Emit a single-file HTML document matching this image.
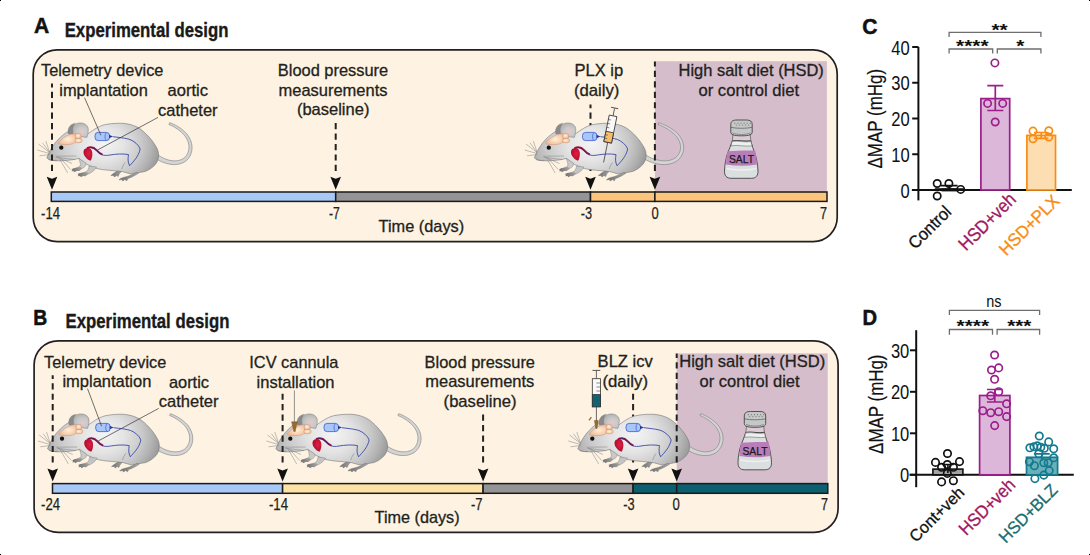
<!DOCTYPE html><html><head><meta charset="utf-8"><style>html,body{margin:0;padding:0;background:#fff;}svg{display:block;}</style></head><body>
<svg width="1090" height="555" viewBox="0 0 1090 555" font-family='"Liberation Sans", sans-serif'>
<defs>
<radialGradient id="mg" gradientUnits="userSpaceOnUse" cx="98" cy="146" r="62" fx="104" fy="142" gradientTransform="translate(98,146) scale(1,0.8) translate(-98,-146)">
 <stop offset="0" stop-color="#F4F4F4"/><stop offset="0.35" stop-color="#E4E4E4"/><stop offset="0.68" stop-color="#C8C8C8"/><stop offset="0.85" stop-color="#B2B2B2"/><stop offset="1" stop-color="#9A9A9A"/></radialGradient>
<radialGradient id="eg" cx="0.62" cy="0.6" r="0.6"><stop offset="0" stop-color="#EBC6C6"/><stop offset="0.45" stop-color="#CACACA"/><stop offset="1" stop-color="#B2B2B2"/></radialGradient>
<linearGradient id="fg" x1="0" y1="0" x2="1" y2="0"><stop offset="0" stop-color="#6e6e6e"/><stop offset="1" stop-color="#a8a8a8"/></linearGradient>
<radialGradient id="hg" cx="0.6" cy="0.45" r="0.6"><stop offset="0" stop-color="#E01E44"/><stop offset="1" stop-color="#B00C2C"/></radialGradient>
<radialGradient id="bg2" cx="0.45" cy="0.45" r="0.6"><stop offset="0" stop-color="#FFF2DE"/><stop offset="1" stop-color="#F0B892"/></radialGradient>
<radialGradient id="bg" cx="0.55" cy="0.5" r="0.6"><stop offset="0" stop-color="#FFF0D8"/><stop offset="1" stop-color="#F2B994"/></radialGradient>

<g id="mouse">
  <path d="M119,169.5 C117,171 115,172.5 113,173.8 L110.8,175.6 L113.4,175.4 L114.4,177 L116.4,175.6 L118.2,176.4 L119.2,174 C120.5,172.5 121.5,171.5 122.5,170.5 Z" fill="url(#fg)" stroke="#6a6a6a" stroke-width="0.4"/>
  <path d="M46.8,157.8 C49.5,151 53.5,144 58.3,139.3 C62,135.5 65.5,132.8 69,131 L88.4,133.4 C94,129.5 100,125.2 107,124.3 C112,123.4 118,123.1 123,123.3 C131,124 137,126.5 141,129.5 C147.5,134.5 154,142 157.3,149 C159.5,154 159,160 155.3,164.6 C152,168 149,170 145,171.5 L131,174 L122,171.5 C114,170.5 104,170.3 97,168.6 C93,167.5 90,165.5 87,164.5 L78.7,158.4 C75,159.6 70,160.2 64,160.6 C60,160.9 57,160.9 54,160.6 C51,160.3 48.5,159.6 46.8,157.8 Z" fill="url(#mg)" stroke="#777" stroke-width="0.6"/>
  <path d="M78.7,158.4 L85.5,162.8 C86.8,165 85.2,167.2 82.4,168.2 L74.5,170.6 L73.4,169.2 L80.2,166.2 C80.6,163.6 79.8,161 78.7,158.4 Z" fill="#C9C9C9" stroke="#777" stroke-width="0.4"/>
  <path d="M73.8,168.2 L71.4,169.2 L72.6,170.1 L71.4,171.3 L73.9,171.2 L74.4,172.2 L76.6,171 L79.2,171.1 L82.6,168.4 L80.2,167 Z" fill="url(#fg)"/>
  <path d="M96.5,167 C95.5,169.5 92.5,172 89.5,173.6 L80.4,175.2 L79.4,173.8 L86.4,171.6 C87.8,170.2 88.8,168.4 89,166 Z" fill="#C4C4C4" stroke="#777" stroke-width="0.4"/>
  <path d="M80,173.1 L77.4,174.1 L78.6,175.1 L77.6,176.3 L80.1,176.1 L80.9,177.2 L83,175.9 L85.4,176.3 L89.2,173.6 L86.4,172.2 Z" fill="url(#fg)"/>
  <path d="M136.5,172.3 C133,174.5 128,176.5 124,177.3 L120.5,178.4 L119,180 L121.8,179.6 L122.8,181 L124.8,179.6 L126.8,180.8 L128,178.6 C131,177.5 134.5,176 138.5,173.2 Z" fill="url(#fg)" stroke="#6a6a6a" stroke-width="0.4"/>
  <path d="M72,135 C70.3,129.5 72.3,124.6 77.8,123.2 C83.5,122 88.6,124.8 88.3,130 C88.1,133.4 87.6,135.8 86.8,137.4 C83,137 77,136 72,135 Z" fill="url(#eg)" stroke="#7a7a7a" stroke-width="0.5"/>
  <path d="M68.3,134 C67,128.5 69.8,124 75.5,123.2 C72.6,125.6 72,130 73.6,134.8 Z" fill="#8a8a8a" stroke="#777" stroke-width="0.3"/>
  <path d="M58.3,143.2 C58.5,141.8 60,140.6 61.6,139.6 C64.5,136.8 68.5,134.6 72,134 C73.5,133.7 75,133.6 75.8,133.9 L76,141.8 C74.5,143 73,143.8 70.5,144.3 C67.5,144.8 64.5,144.8 61.5,144.4 C59.5,144.2 58.2,143.9 58.3,143.2 Z" fill="url(#bg)" stroke="#c98e6e" stroke-width="0.45"/>
  <path d="M75.6,138.4 L80.8,138.4 C82.3,139 82.6,141.3 81.4,142.2 C79.8,143 77,143 75.4,142.3 C74.8,141 74.9,139.5 75.6,138.4 Z" fill="url(#bg2)" stroke="#c98e6e" stroke-width="0.45"/>
  <path d="M75.4,134.6 C75.8,133.4 78.6,133.1 80.2,133.9 C81.3,134.6 81.3,137.2 80.8,138.4 L75.6,138.4 C75.1,137.2 75.1,135.6 75.4,134.6 Z" fill="url(#bg2)" stroke="#c98e6e" stroke-width="0.45"/>
  <circle cx="61.3" cy="147.7" r="2.15" fill="#111"/>
  <g stroke="#8a8a8a" stroke-width="0.55" fill="none">
    <path d="M49.5,152.5 L38.5,144"/><path d="M49.5,153.5 L37.3,150"/><path d="M50,154.5 L39.5,155.8"/><path d="M49.5,152 L45.8,141"/><path d="M50,153 L42.5,142.8"/>
    <path d="M55.5,156.2 L76.5,156"/><path d="M56,157.2 L75,159.6"/><path d="M58.9,157.8 L67.7,173"/><path d="M60.5,158.2 L70.6,169.5"/><path d="M57,157 L72,163.5"/>
  </g>
  <path d="M48.5,159.5 C51,160.6 54,160.8 57,160.2" fill="none" stroke="#777" stroke-width="0.5"/>
  <path d="M125.1,162.4 C123.5,164.5 122.3,167 121.8,169.1" fill="none" stroke="#777" stroke-width="0.5"/>
  <path d="M84.3,149.5 C86.5,147.3 90,147.5 91.6,150.3 C92.8,152.5 92.6,156.5 91.2,159.8 L90.4,160.7 C87.5,159.8 84.5,157 83.7,153.8 C83.3,152 83.5,150.5 84.3,149.5 Z" fill="url(#hg)"/>
  <path d="M87,148.2 C91,146.2 94,147.2 96.5,150.2 C98.5,152.5 100.5,154 102.5,154.6" fill="none" stroke="#A01040" stroke-width="1.9"/><path d="M89,147.6 C92,147 94,148 96.5,150.6 C98.5,152.8 100.5,154 102.5,154.6" fill="none" stroke="#2a2a80" stroke-width="0.7"/>
  <path d="M101.7,154.6 C104,155.6 106.2,155.7 110,155 C116,154 122.9,153.5 128.5,154.6 C128,158 127.5,162 129.6,165.8 C133,162 138.5,156.8 140.2,149 C138.5,144.5 134,141.2 130,139.5 C126,138.3 122.9,137.9 118,137.3 L112.9,136.7" fill="none" stroke="#3a4aa8" stroke-width="0.9"/>
  <rect x="95" y="132.4" width="14.5" height="8.2" rx="3.2" fill="#A9C6F8" stroke="#3a5bc7" stroke-width="0.8"/>
  <path d="M106.2,132.8 C104.6,134.5 104.6,138.8 106.2,140.3" fill="none" stroke="#3a5bc7" stroke-width="0.7"/>
  <path d="M109,134.8 L113,136.5 L109,138.2 Z" fill="#2a3a9a"/>
</g>

</defs>
<text x="33.9" y="33.3" font-size="21.5" text-anchor="start" fill="#111" font-weight="bold" textLength="15.2" lengthAdjust="spacingAndGlyphs" class="lt" stroke="#111" stroke-width="0.5">A</text>
<text x="64.7" y="36.6" font-size="19.8" text-anchor="start" fill="#1a1a1a" font-weight="bold" textLength="163.8" lengthAdjust="spacingAndGlyphs" stroke="#1a1a1a" stroke-width="0.35">Experimental design</text>
<rect x="33.2" y="49.9" width="804" height="191.7" rx="24" ry="24" fill="#FEF3E2" stroke="#231F20" stroke-width="1.7"/>
<rect x="654.9" y="61.2" width="172" height="131" fill="#D5BDCB"/>
<text x="41.0" y="76.0" font-size="16.2" text-anchor="start" fill="#231F20" font-weight="normal" textLength="122.4" lengthAdjust="spacingAndGlyphs"  stroke="#231F20" stroke-width="0.3">Telemetry device</text>
<text x="59.3" y="95.6" font-size="16.2" text-anchor="start" fill="#231F20" font-weight="normal" textLength="88.5" lengthAdjust="spacingAndGlyphs"  stroke="#231F20" stroke-width="0.3">implantation</text>
<text x="167.6" y="96.1" font-size="16.2" text-anchor="start" fill="#231F20" font-weight="normal" textLength="40.4" lengthAdjust="spacingAndGlyphs"  stroke="#231F20" stroke-width="0.3">aortic</text>
<text x="158.0" y="116.1" font-size="16.2" text-anchor="start" fill="#231F20" font-weight="normal" textLength="59.6" lengthAdjust="spacingAndGlyphs"  stroke="#231F20" stroke-width="0.3">catheter</text>
<text x="277.8" y="75.9" font-size="16.2" text-anchor="start" fill="#231F20" font-weight="normal" textLength="110.4" lengthAdjust="spacingAndGlyphs"  stroke="#231F20" stroke-width="0.3">Blood pressure</text>
<text x="278.5" y="95.9" font-size="16.2" text-anchor="start" fill="#231F20" font-weight="normal" textLength="109.0" lengthAdjust="spacingAndGlyphs"  stroke="#231F20" stroke-width="0.3">measurements</text>
<text x="296.9" y="115.4" font-size="16.2" text-anchor="start" fill="#231F20" font-weight="normal" textLength="72.5" lengthAdjust="spacingAndGlyphs"  stroke="#231F20" stroke-width="0.3">(baseline)</text>
<text x="574.4" y="76.1" font-size="16.2" text-anchor="start" fill="#231F20" font-weight="normal" textLength="48.8" lengthAdjust="spacingAndGlyphs"  stroke="#231F20" stroke-width="0.3">PLX ip</text>
<text x="573.9" y="95.9" font-size="16.2" text-anchor="start" fill="#231F20" font-weight="normal" textLength="45.5" lengthAdjust="spacingAndGlyphs"  stroke="#231F20" stroke-width="0.3">(daily)</text>
<text x="678.6" y="76.1" font-size="16.2" text-anchor="start" fill="#231F20" font-weight="normal" textLength="145.2" lengthAdjust="spacingAndGlyphs"  stroke="#231F20" stroke-width="0.3">High salt diet (HSD)</text>
<text x="698.5" y="95.9" font-size="16.2" text-anchor="start" fill="#231F20" font-weight="normal" textLength="100.5" lengthAdjust="spacingAndGlyphs"  stroke="#231F20" stroke-width="0.3">or control diet</text>
<text x="378.6" y="231.7" font-size="16.2" text-anchor="start" fill="#231F20" font-weight="normal" textLength="85.6" lengthAdjust="spacingAndGlyphs"  stroke="#231F20" stroke-width="0.3">Time (days)</text>
<line x1="590.5" y1="175.3" x2="590.5" y2="104.5" stroke="#222" stroke-width="2" stroke-dasharray="6.2 4.25" stroke-dashoffset="6.2"/>
<path d="M154.74,157.68 L155.89,158.51 L157.16,159.35 L158.50,160.14 L159.90,160.90 L161.37,161.60 L162.89,162.25 L164.46,162.84 L166.07,163.35 L167.72,163.78 L169.39,164.13 L171.09,164.39 L172.80,164.54 L174.51,164.57 L176.23,164.49 L177.94,164.27 L179.63,163.91 L181.30,163.41 L182.92,162.74 L184.50,161.91 L186.06,160.87 L187.22,159.77 L188.21,158.66 L189.08,157.48 L189.85,156.24 L190.50,154.96 L191.04,153.63 L191.46,152.26 L191.77,150.85 L191.97,149.43 L192.05,147.98 L192.01,146.52 L191.87,145.05 L191.60,143.58 L191.22,142.11 L190.73,140.65 L190.12,139.20 L189.40,137.77 L188.57,136.36 L187.62,134.98 L186.55,133.62 L185.71,132.76 L184.91,131.96 L184.08,131.20 L183.25,130.47 L182.41,129.77 L181.56,129.10 L180.71,128.46 L179.85,127.84 L178.98,127.26 L178.12,126.71 L177.25,126.18 L176.39,125.68 L175.52,125.21 L174.66,124.77 L173.81,124.35 L172.96,123.96 L172.11,123.60 L171.28,123.26 L170.46,122.95 L169.65,122.66 L168.95,124.54 L169.72,124.85 L170.48,125.18 L171.26,125.53 L172.05,125.91 L172.84,126.31 L173.63,126.74 L174.43,127.19 L175.23,127.66 L176.03,128.17 L176.83,128.69 L177.63,129.25 L178.42,129.82 L179.21,130.43 L179.99,131.06 L180.77,131.72 L181.54,132.41 L182.29,133.12 L183.04,133.86 L183.77,134.62 L184.45,135.38 L185.37,136.60 L186.19,137.85 L186.89,139.11 L187.49,140.38 L187.99,141.65 L188.38,142.92 L188.67,144.18 L188.86,145.44 L188.96,146.67 L188.95,147.89 L188.85,149.09 L188.66,150.26 L188.37,151.39 L188.00,152.50 L187.53,153.56 L186.98,154.58 L186.33,155.56 L185.60,156.49 L184.78,157.36 L183.94,158.13 L182.74,158.88 L181.46,159.52 L180.13,160.03 L178.77,160.41 L177.37,160.67 L175.95,160.81 L174.50,160.85 L173.04,160.78 L171.57,160.62 L170.11,160.37 L168.65,160.03 L167.21,159.61 L165.79,159.12 L164.41,158.57 L163.07,157.96 L161.78,157.30 L160.55,156.60 L159.38,155.87 L158.30,155.12 L157.26,154.32 Z" fill="#D4D4D4" stroke="#7a7a7a" stroke-width="0.6" stroke-linejoin="round"/>
<use href="#mouse"/>
<path d="M642.34,157.75 L643.61,158.57 L645.02,159.40 L646.50,160.19 L648.06,160.94 L649.69,161.64 L651.38,162.28 L653.12,162.86 L654.91,163.37 L656.73,163.80 L658.58,164.14 L660.45,164.39 L662.34,164.54 L664.24,164.57 L666.13,164.49 L668.01,164.28 L669.87,163.92 L671.71,163.43 L673.50,162.77 L675.24,161.95 L676.96,160.93 L678.25,159.84 L679.35,158.73 L680.33,157.55 L681.19,156.31 L681.93,155.02 L682.54,153.68 L683.02,152.30 L683.37,150.89 L683.60,149.45 L683.69,147.99 L683.65,146.51 L683.49,145.03 L683.19,143.55 L682.77,142.07 L682.21,140.60 L681.53,139.14 L680.73,137.71 L679.79,136.30 L678.73,134.92 L677.54,133.57 L676.61,132.70 L675.71,131.91 L674.79,131.15 L673.86,130.42 L672.93,129.72 L671.98,129.06 L671.03,128.42 L670.07,127.81 L669.11,127.23 L668.15,126.68 L667.18,126.15 L666.22,125.66 L665.25,125.19 L664.30,124.75 L663.34,124.33 L662.40,123.95 L661.46,123.58 L660.53,123.25 L659.61,122.94 L658.72,122.65 L658.08,124.55 L658.94,124.86 L659.81,125.19 L660.68,125.55 L661.57,125.93 L662.46,126.33 L663.35,126.76 L664.25,127.21 L665.16,127.69 L666.06,128.19 L666.96,128.72 L667.86,129.28 L668.75,129.86 L669.64,130.47 L670.52,131.10 L671.40,131.76 L672.26,132.45 L673.11,133.17 L673.95,133.91 L674.77,134.68 L675.54,135.43 L676.58,136.66 L677.49,137.91 L678.28,139.17 L678.96,140.43 L679.51,141.70 L679.95,142.96 L680.28,144.22 L680.49,145.46 L680.59,146.68 L680.59,147.89 L680.48,149.07 L680.27,150.22 L679.96,151.35 L679.54,152.44 L679.03,153.49 L678.41,154.51 L677.69,155.48 L676.87,156.41 L675.95,157.30 L675.00,158.07 L673.63,158.84 L672.17,159.49 L670.65,160.01 L669.10,160.40 L667.50,160.66 L665.87,160.81 L664.22,160.85 L662.56,160.78 L660.89,160.62 L659.22,160.36 L657.56,160.02 L655.93,159.59 L654.32,159.10 L652.75,158.54 L651.24,157.93 L649.78,157.26 L648.38,156.56 L647.07,155.82 L645.84,155.06 L644.66,154.25 Z" fill="#D4D4D4" stroke="#7a7a7a" stroke-width="0.6" stroke-linejoin="round"/>
<use href="#mouse" transform="translate(487.5,0)"/>
<line x1="84.5" y1="97.6" x2="100.9" y2="135.2" stroke="#333" stroke-width="0.7"/>
<line x1="158" y1="117.4" x2="97.5" y2="150" stroke="#333" stroke-width="0.7"/>
<g transform="translate(603.6,162.4) rotate(11.5)">
<line x1="0" y1="0" x2="0" y2="-21" stroke="#444" stroke-width="0.8"/>
<rect x="-3.9" y="-47.5" width="7.8" height="27" fill="#F8F8F8" stroke="#333" stroke-width="0.8"/>
<rect x="-3.9" y="-31" width="7.8" height="10.5" fill="#F9BC68" stroke="#333" stroke-width="0.8"/>
<path d="M-3.9,-24 h2.6 M-3.9,-27.5 h2.6 M-3.9,-35 h2.6 M-3.9,-39 h2.6 M-3.9,-43 h2.6" stroke="#444" stroke-width="0.6"/>
<line x1="0" y1="-47.5" x2="0" y2="-55" stroke="#444" stroke-width="0.8"/>
<line x1="-3.6" y1="-55.5" x2="3.6" y2="-55.5" stroke="#444" stroke-width="0.9"/>
</g>
<g transform="translate(0,0)">
<path d="M733,134.5 L732.3,141 L750.9,141 L750.2,134.5 Z" fill="#DCCAD4" stroke="#444" stroke-width="0.6"/>
<path d="M732.3,140.8 C731,145 729,150 727.3,154 C726,158 724.6,165 724.5,171 C724.4,175.5 726.5,178.3 731,178.3 L751.5,178.3 C756,178.3 758.2,175.5 758,171 C757.8,165 756.4,158 755.1,154 C753.5,150 751.8,145 750.9,140.8 C745,142.2 738,139.6 732.3,140.8 Z" fill="#DCDFDF" stroke="#333" stroke-width="0.8"/>
<path d="M732,141.5 C738,140.3 745,142.8 751,141.5 C751.5,143.5 751.8,144.8 752,145.8 C745,147 738,144.5 731.2,145.8 Z" fill="#EEF0F0" stroke="#555" stroke-width="0.5"/>
<path d="M727.5,151.3 C736,150.6 747,150.4 755.2,150.6 C756,155 756.6,160 756.8,164.6 C747,166.2 737,166.2 726,164.6 C726.2,160 726.8,155 727.5,151.3 Z" fill="#B97DB9"/>
<path d="M726.5,168.5 C737,170.5 747,170.5 756.5,168.5" fill="none" stroke="#F4F6F6" stroke-width="1.4" opacity="0.7"/>
<path d="M730.8,124.5 C730.8,121.3 733,120 737,120 L746.5,120 C750.3,120 752.2,121.3 752.2,124.5 L752.2,132 C752.2,134.5 750,135.8 741.5,135.8 C733,135.8 730.8,134.5 730.8,132 Z" fill="#C6C8C8" stroke="#333" stroke-width="0.8"/>
<path d="M731,127.4 C737,128.6 746,128.6 752,127.4" fill="none" stroke="#444" stroke-width="0.6"/>
<path d="M732.5,133 C738,135 745,135 750.5,133" fill="none" stroke="#8a8a8a" stroke-width="1"/>
<g fill="#7a7a7a"><circle cx="734.8" cy="123.2" r="0.6"/><circle cx="737.9" cy="123.2" r="0.6"/><circle cx="741.0" cy="123.2" r="0.6"/><circle cx="744.1" cy="123.2" r="0.6"/><circle cx="747.2" cy="123.2" r="0.6"/><circle cx="750.3" cy="123.2" r="0.6"/><circle cx="736.3" cy="125.1" r="0.6"/><circle cx="739.4" cy="125.1" r="0.6"/><circle cx="742.5" cy="125.1" r="0.6"/><circle cx="745.6" cy="125.1" r="0.6"/><circle cx="748.7" cy="125.1" r="0.6"/></g>
<text x="741.5" y="163.2" font-size="10.5" text-anchor="middle" fill="#1a1a1a" stroke="#1a1a1a" stroke-width="0.25" textLength="25" lengthAdjust="spacingAndGlyphs" font-weight="normal">SALT</text>
</g>
<line x1="52" y1="175.3" x2="52" y2="83.4" stroke="#222" stroke-width="2" stroke-dasharray="6.2 4.25" stroke-dashoffset="6.2"/>
<path d="M52,189.8 L46.7,176.8 L52,178.8 L57.3,176.8 Z" fill="#111"/>
<line x1="335.7" y1="175.3" x2="335.7" y2="122.2" stroke="#222" stroke-width="2" stroke-dasharray="6.2 4.25" stroke-dashoffset="6.2"/>
<path d="M335.7,189.8 L330.4,176.8 L335.7,178.8 L341.0,176.8 Z" fill="#111"/>
<line x1="654.9" y1="175.3" x2="654.9" y2="61.5" stroke="#222" stroke-width="2" stroke-dasharray="6.2 4.25" stroke-dashoffset="6.2"/>
<path d="M654.9,189.8 L649.6,176.8 L654.9,178.8 L660.1999999999999,176.8 Z" fill="#111"/>
<path d="M590.5,189.8 L585.2,176.8 L590.5,178.8 L595.8,176.8 Z" fill="#111"/>
<g stroke="#1a1a1a" stroke-width="1.5">
<rect x="51.3" y="192" width="284.4" height="9.4" fill="#A8C8F8"/>
<rect x="335.7" y="192" width="254.8" height="9.4" fill="#949496"/>
<rect x="590.5" y="192" width="64.4" height="9.4" fill="#FDC57C"/>
<rect x="654.9" y="192" width="172.1" height="9.4" fill="#FDC57C"/>
</g>
<text x="41" y="218.6" font-size="16" text-anchor="start" fill="#231F20" font-weight="normal" textLength="19" lengthAdjust="spacingAndGlyphs" class="nm" stroke="#231F20" stroke-width="0.25">-14</text>
<text x="328.9" y="218.6" font-size="16" text-anchor="start" fill="#231F20" font-weight="normal" textLength="10.8" lengthAdjust="spacingAndGlyphs" class="nm" stroke="#231F20" stroke-width="0.25">-7</text>
<text x="580.8" y="218.6" font-size="16" text-anchor="start" fill="#231F20" font-weight="normal" textLength="11.3" lengthAdjust="spacingAndGlyphs" class="nm" stroke="#231F20" stroke-width="0.25">-3</text>
<text x="651.5" y="218.6" font-size="16" text-anchor="start" fill="#231F20" font-weight="normal" textLength="7.2" lengthAdjust="spacingAndGlyphs" class="nm" stroke="#231F20" stroke-width="0.25">0</text>
<text x="820" y="218.6" font-size="16" text-anchor="start" fill="#231F20" font-weight="normal" textLength="7.0" lengthAdjust="spacingAndGlyphs" class="nm" stroke="#231F20" stroke-width="0.25">7</text>
<text x="33.2" y="325.2" font-size="21.5" text-anchor="start" fill="#111" font-weight="bold" textLength="14.0" lengthAdjust="spacingAndGlyphs" class="lt" stroke="#111" stroke-width="0.5">B</text>
<text x="65.6" y="327.6" font-size="19.8" text-anchor="start" fill="#1a1a1a" font-weight="bold" textLength="163.8" lengthAdjust="spacingAndGlyphs" stroke="#1a1a1a" stroke-width="0.35">Experimental design</text>
<rect x="34.1" y="340.8" width="804" height="191.6" rx="24" ry="24" fill="#FEF3E2" stroke="#231F20" stroke-width="1.7"/>
<rect x="676.7" y="353.4" width="151" height="130.1" fill="#D5BDCB"/>
<text x="44.1" y="367.5" font-size="16.2" text-anchor="start" fill="#231F20" font-weight="normal" textLength="122.1" lengthAdjust="spacingAndGlyphs"  stroke="#231F20" stroke-width="0.3">Telemetry device</text>
<text x="62.4" y="387.1" font-size="16.2" text-anchor="start" fill="#231F20" font-weight="normal" textLength="89.0" lengthAdjust="spacingAndGlyphs"  stroke="#231F20" stroke-width="0.3">implantation</text>
<text x="168.9" y="387.6" font-size="16.2" text-anchor="start" fill="#231F20" font-weight="normal" textLength="40.1" lengthAdjust="spacingAndGlyphs"  stroke="#231F20" stroke-width="0.3">aortic</text>
<text x="158.8" y="407.3" font-size="16.2" text-anchor="start" fill="#231F20" font-weight="normal" textLength="59.7" lengthAdjust="spacingAndGlyphs"  stroke="#231F20" stroke-width="0.3">catheter</text>
<text x="249.3" y="367.8" font-size="16.2" text-anchor="start" fill="#231F20" font-weight="normal" textLength="89.1" lengthAdjust="spacingAndGlyphs"  stroke="#231F20" stroke-width="0.3">ICV cannula</text>
<text x="256.6" y="387.5" font-size="16.2" text-anchor="start" fill="#231F20" font-weight="normal" textLength="77.9" lengthAdjust="spacingAndGlyphs"  stroke="#231F20" stroke-width="0.3">installation</text>
<text x="424.6" y="367.8" font-size="16.2" text-anchor="start" fill="#231F20" font-weight="normal" textLength="110.4" lengthAdjust="spacingAndGlyphs"  stroke="#231F20" stroke-width="0.3">Blood pressure</text>
<text x="425.3" y="387.3" font-size="16.2" text-anchor="start" fill="#231F20" font-weight="normal" textLength="109.0" lengthAdjust="spacingAndGlyphs"  stroke="#231F20" stroke-width="0.3">measurements</text>
<text x="443.6" y="407.2" font-size="16.2" text-anchor="start" fill="#231F20" font-weight="normal" textLength="73.0" lengthAdjust="spacingAndGlyphs"  stroke="#231F20" stroke-width="0.3">(baseline)</text>
<text x="597.6" y="367.4" font-size="16.2" text-anchor="start" fill="#231F20" font-weight="normal" textLength="55.2" lengthAdjust="spacingAndGlyphs"  stroke="#231F20" stroke-width="0.3">BLZ icv</text>
<text x="602.4" y="387.0" font-size="16.2" text-anchor="start" fill="#231F20" font-weight="normal" textLength="45.6" lengthAdjust="spacingAndGlyphs"  stroke="#231F20" stroke-width="0.3">(daily)</text>
<text x="679.2" y="367.4" font-size="16.2" text-anchor="start" fill="#231F20" font-weight="normal" textLength="146.1" lengthAdjust="spacingAndGlyphs"  stroke="#231F20" stroke-width="0.3">High salt diet (HSD)</text>
<text x="699.5" y="387.0" font-size="16.2" text-anchor="start" fill="#231F20" font-weight="normal" textLength="100.1" lengthAdjust="spacingAndGlyphs"  stroke="#231F20" stroke-width="0.3">or control diet</text>
<text x="374.6" y="522.8" font-size="16.2" text-anchor="start" fill="#231F20" font-weight="normal" textLength="85.0" lengthAdjust="spacingAndGlyphs"  stroke="#231F20" stroke-width="0.3">Time (days)</text>
<line x1="633.1" y1="466.8" x2="633.1" y2="392.7" stroke="#222" stroke-width="2" stroke-dasharray="6.2 4.25" stroke-dashoffset="6.2"/>
<path d="M155.44,448.68 L156.59,449.51 L157.86,450.35 L159.20,451.14 L160.60,451.90 L162.07,452.60 L163.59,453.25 L165.16,453.84 L166.77,454.35 L168.42,454.78 L170.09,455.13 L171.79,455.39 L173.50,455.54 L175.21,455.57 L176.93,455.49 L178.64,455.27 L180.33,454.91 L182.00,454.41 L183.62,453.74 L185.20,452.91 L186.76,451.87 L187.92,450.77 L188.91,449.66 L189.78,448.48 L190.55,447.24 L191.20,445.96 L191.74,444.63 L192.16,443.26 L192.47,441.85 L192.67,440.43 L192.75,438.98 L192.71,437.52 L192.57,436.05 L192.30,434.58 L191.92,433.11 L191.43,431.65 L190.82,430.20 L190.10,428.77 L189.27,427.36 L188.32,425.98 L187.25,424.62 L186.41,423.76 L185.61,422.96 L184.78,422.20 L183.95,421.47 L183.11,420.77 L182.26,420.10 L181.41,419.46 L180.55,418.84 L179.68,418.26 L178.82,417.71 L177.95,417.18 L177.09,416.68 L176.22,416.21 L175.36,415.77 L174.51,415.35 L173.66,414.96 L172.81,414.60 L171.98,414.26 L171.16,413.95 L170.35,413.66 L169.65,415.54 L170.42,415.85 L171.18,416.18 L171.96,416.53 L172.75,416.91 L173.54,417.31 L174.33,417.74 L175.13,418.19 L175.93,418.66 L176.73,419.17 L177.53,419.69 L178.33,420.25 L179.12,420.82 L179.91,421.43 L180.69,422.06 L181.47,422.72 L182.24,423.41 L182.99,424.12 L183.74,424.86 L184.47,425.62 L185.15,426.38 L186.07,427.60 L186.89,428.85 L187.59,430.11 L188.19,431.38 L188.69,432.65 L189.08,433.92 L189.37,435.18 L189.56,436.44 L189.66,437.67 L189.65,438.89 L189.55,440.09 L189.36,441.26 L189.07,442.39 L188.70,443.50 L188.23,444.56 L187.68,445.58 L187.03,446.56 L186.30,447.49 L185.48,448.36 L184.64,449.13 L183.44,449.88 L182.16,450.52 L180.83,451.03 L179.47,451.41 L178.07,451.67 L176.65,451.81 L175.20,451.85 L173.74,451.78 L172.27,451.62 L170.81,451.37 L169.35,451.03 L167.91,450.61 L166.49,450.12 L165.11,449.57 L163.77,448.96 L162.48,448.30 L161.25,447.60 L160.08,446.87 L159.00,446.12 L157.96,445.32 Z" fill="#D4D4D4" stroke="#7a7a7a" stroke-width="0.6" stroke-linejoin="round"/>
<use href="#mouse" transform="translate(0.7,291)"/>
<path d="M383.74,448.68 L384.89,449.51 L386.16,450.35 L387.50,451.14 L388.90,451.90 L390.37,452.60 L391.89,453.25 L393.46,453.84 L395.07,454.35 L396.72,454.78 L398.39,455.13 L400.09,455.39 L401.80,455.54 L403.51,455.57 L405.23,455.49 L406.94,455.27 L408.63,454.91 L410.30,454.41 L411.92,453.74 L413.50,452.91 L415.06,451.87 L416.22,450.77 L417.21,449.66 L418.08,448.48 L418.85,447.24 L419.50,445.96 L420.04,444.63 L420.46,443.26 L420.77,441.85 L420.97,440.43 L421.05,438.98 L421.01,437.52 L420.87,436.05 L420.60,434.58 L420.22,433.11 L419.73,431.65 L419.12,430.20 L418.40,428.77 L417.57,427.36 L416.62,425.98 L415.55,424.62 L414.71,423.76 L413.91,422.96 L413.08,422.20 L412.25,421.47 L411.41,420.77 L410.56,420.10 L409.71,419.46 L408.85,418.84 L407.98,418.26 L407.12,417.71 L406.25,417.18 L405.39,416.68 L404.52,416.21 L403.66,415.77 L402.81,415.35 L401.96,414.96 L401.11,414.60 L400.28,414.26 L399.46,413.95 L398.65,413.66 L397.95,415.54 L398.72,415.85 L399.48,416.18 L400.26,416.53 L401.05,416.91 L401.84,417.31 L402.63,417.74 L403.43,418.19 L404.23,418.66 L405.03,419.17 L405.83,419.69 L406.63,420.25 L407.42,420.82 L408.21,421.43 L408.99,422.06 L409.77,422.72 L410.54,423.41 L411.29,424.12 L412.04,424.86 L412.77,425.62 L413.45,426.38 L414.37,427.60 L415.19,428.85 L415.89,430.11 L416.49,431.38 L416.99,432.65 L417.38,433.92 L417.67,435.18 L417.86,436.44 L417.96,437.67 L417.95,438.89 L417.85,440.09 L417.66,441.26 L417.37,442.39 L417.00,443.50 L416.53,444.56 L415.98,445.58 L415.33,446.56 L414.60,447.49 L413.78,448.36 L412.94,449.13 L411.74,449.88 L410.46,450.52 L409.13,451.03 L407.77,451.41 L406.37,451.67 L404.95,451.81 L403.50,451.85 L402.04,451.78 L400.57,451.62 L399.11,451.37 L397.65,451.03 L396.21,450.61 L394.79,450.12 L393.41,449.57 L392.07,448.96 L390.78,448.30 L389.55,447.60 L388.38,446.87 L387.30,446.12 L386.26,445.32 Z" fill="#D4D4D4" stroke="#7a7a7a" stroke-width="0.6" stroke-linejoin="round"/>
<use href="#mouse" transform="translate(229,291)"/>
<path d="M685.74,448.68 L686.89,449.51 L688.16,450.35 L689.50,451.14 L690.90,451.90 L692.37,452.60 L693.89,453.25 L695.46,453.84 L697.07,454.35 L698.72,454.78 L700.39,455.13 L702.09,455.39 L703.80,455.54 L705.51,455.57 L707.23,455.49 L708.94,455.27 L710.63,454.91 L712.30,454.41 L713.92,453.74 L715.50,452.91 L717.06,451.87 L718.22,450.77 L719.21,449.66 L720.08,448.48 L720.85,447.24 L721.50,445.96 L722.04,444.63 L722.46,443.26 L722.77,441.85 L722.97,440.43 L723.05,438.98 L723.01,437.52 L722.87,436.05 L722.60,434.58 L722.22,433.11 L721.73,431.65 L721.12,430.20 L720.40,428.77 L719.57,427.36 L718.62,425.98 L717.55,424.62 L716.71,423.76 L715.91,422.96 L715.08,422.20 L714.25,421.47 L713.41,420.77 L712.56,420.10 L711.71,419.46 L710.85,418.84 L709.98,418.26 L709.12,417.71 L708.25,417.18 L707.39,416.68 L706.52,416.21 L705.66,415.77 L704.81,415.35 L703.96,414.96 L703.11,414.60 L702.28,414.26 L701.46,413.95 L700.65,413.66 L699.95,415.54 L700.72,415.85 L701.48,416.18 L702.26,416.53 L703.05,416.91 L703.84,417.31 L704.63,417.74 L705.43,418.19 L706.23,418.66 L707.03,419.17 L707.83,419.69 L708.63,420.25 L709.42,420.82 L710.21,421.43 L710.99,422.06 L711.77,422.72 L712.54,423.41 L713.29,424.12 L714.04,424.86 L714.77,425.62 L715.45,426.38 L716.37,427.60 L717.19,428.85 L717.89,430.11 L718.49,431.38 L718.99,432.65 L719.38,433.92 L719.67,435.18 L719.86,436.44 L719.96,437.67 L719.95,438.89 L719.85,440.09 L719.66,441.26 L719.37,442.39 L719.00,443.50 L718.53,444.56 L717.98,445.58 L717.33,446.56 L716.60,447.49 L715.78,448.36 L714.94,449.13 L713.74,449.88 L712.46,450.52 L711.13,451.03 L709.77,451.41 L708.37,451.67 L706.95,451.81 L705.50,451.85 L704.04,451.78 L702.57,451.62 L701.11,451.37 L699.65,451.03 L698.21,450.61 L696.79,450.12 L695.41,449.57 L694.07,448.96 L692.78,448.30 L691.55,447.60 L690.38,446.87 L689.30,446.12 L688.26,445.32 Z" fill="#D4D4D4" stroke="#7a7a7a" stroke-width="0.6" stroke-linejoin="round"/>
<use href="#mouse" transform="translate(531,291)"/>
<line x1="87.5" y1="388.6" x2="101.6" y2="426.2" stroke="#333" stroke-width="0.7"/>
<line x1="158.7" y1="408.4" x2="98.2" y2="441" stroke="#333" stroke-width="0.7"/>
<line x1="294.4" y1="390.4" x2="294.4" y2="422" stroke="#777" stroke-width="0.8"/>
<path d="M291.6,421.8 L297.2,421.8 L295.2,431.5 L293.8,431.5 Z" fill="#9C6A2E" stroke="#6b4a20" stroke-width="0.4"/>
<line x1="596.4" y1="406.8" x2="596.4" y2="421" stroke="#444" stroke-width="0.8"/>
<rect x="592.3" y="378.7" width="8.3" height="28.1" fill="#F8F8F8" stroke="#333" stroke-width="0.8"/>
<rect x="592.3" y="394.6" width="8.3" height="12.2" fill="#0E6375" stroke="#333" stroke-width="0.8"/>
<path d="M596.4,383 h4.2 M596.4,387 h4.2 M596.4,391 h4.2 M596.4,400 h4.2" stroke="#444" stroke-width="0.6"/>
<line x1="596.4" y1="370.4" x2="596.4" y2="378.7" stroke="#444" stroke-width="0.8"/>
<line x1="592.5" y1="370.4" x2="600.3" y2="370.4" stroke="#444" stroke-width="0.9"/>
<path d="M594.4,420.5 L598.3,420.5 L597,428.4 L595.8,428.4 Z" fill="#9C6A2E" stroke="#6b4a20" stroke-width="0.4"/>
<line x1="589" y1="420.3" x2="591.4" y2="417.2" stroke="#9C6A2E" stroke-width="1.3"/>
<g transform="translate(13.5,291.5)">
<path d="M733,134.5 L732.3,141 L750.9,141 L750.2,134.5 Z" fill="#DCCAD4" stroke="#444" stroke-width="0.6"/>
<path d="M732.3,140.8 C731,145 729,150 727.3,154 C726,158 724.6,165 724.5,171 C724.4,175.5 726.5,178.3 731,178.3 L751.5,178.3 C756,178.3 758.2,175.5 758,171 C757.8,165 756.4,158 755.1,154 C753.5,150 751.8,145 750.9,140.8 C745,142.2 738,139.6 732.3,140.8 Z" fill="#DCDFDF" stroke="#333" stroke-width="0.8"/>
<path d="M732,141.5 C738,140.3 745,142.8 751,141.5 C751.5,143.5 751.8,144.8 752,145.8 C745,147 738,144.5 731.2,145.8 Z" fill="#EEF0F0" stroke="#555" stroke-width="0.5"/>
<path d="M727.5,151.3 C736,150.6 747,150.4 755.2,150.6 C756,155 756.6,160 756.8,164.6 C747,166.2 737,166.2 726,164.6 C726.2,160 726.8,155 727.5,151.3 Z" fill="#B97DB9"/>
<path d="M726.5,168.5 C737,170.5 747,170.5 756.5,168.5" fill="none" stroke="#F4F6F6" stroke-width="1.4" opacity="0.7"/>
<path d="M730.8,124.5 C730.8,121.3 733,120 737,120 L746.5,120 C750.3,120 752.2,121.3 752.2,124.5 L752.2,132 C752.2,134.5 750,135.8 741.5,135.8 C733,135.8 730.8,134.5 730.8,132 Z" fill="#C6C8C8" stroke="#333" stroke-width="0.8"/>
<path d="M731,127.4 C737,128.6 746,128.6 752,127.4" fill="none" stroke="#444" stroke-width="0.6"/>
<path d="M732.5,133 C738,135 745,135 750.5,133" fill="none" stroke="#8a8a8a" stroke-width="1"/>
<g fill="#7a7a7a"><circle cx="734.8" cy="123.2" r="0.6"/><circle cx="737.9" cy="123.2" r="0.6"/><circle cx="741.0" cy="123.2" r="0.6"/><circle cx="744.1" cy="123.2" r="0.6"/><circle cx="747.2" cy="123.2" r="0.6"/><circle cx="750.3" cy="123.2" r="0.6"/><circle cx="736.3" cy="125.1" r="0.6"/><circle cx="739.4" cy="125.1" r="0.6"/><circle cx="742.5" cy="125.1" r="0.6"/><circle cx="745.6" cy="125.1" r="0.6"/><circle cx="748.7" cy="125.1" r="0.6"/></g>
<text x="741.5" y="163.2" font-size="10.5" text-anchor="middle" fill="#1a1a1a" stroke="#1a1a1a" stroke-width="0.25" textLength="25" lengthAdjust="spacingAndGlyphs" font-weight="normal">SALT</text>
</g>
<line x1="52.7" y1="466.8" x2="52.7" y2="375.3" stroke="#222" stroke-width="2" stroke-dasharray="6.2 4.25" stroke-dashoffset="6.2"/>
<path d="M52.7,481.4 L47.400000000000006,468.4 L52.7,470.4 L58.0,468.4 Z" fill="#111"/>
<line x1="282.6" y1="466.8" x2="282.6" y2="392" stroke="#222" stroke-width="2" stroke-dasharray="6.2 4.25" stroke-dashoffset="6.2"/>
<path d="M282.6,481.4 L277.3,468.4 L282.6,470.4 L287.90000000000003,468.4 Z" fill="#111"/>
<line x1="483.1" y1="466.8" x2="483.1" y2="412" stroke="#222" stroke-width="2" stroke-dasharray="6.2 4.25" stroke-dashoffset="6.2"/>
<path d="M483.1,481.4 L477.8,468.4 L483.1,470.4 L488.40000000000003,468.4 Z" fill="#111"/>
<path d="M633.1,481.4 L627.8000000000001,468.4 L633.1,470.4 L638.4,468.4 Z" fill="#111"/>
<line x1="676.7" y1="466.8" x2="676.7" y2="353.6" stroke="#222" stroke-width="2" stroke-dasharray="6.2 4.25" stroke-dashoffset="6.2"/>
<path d="M676.7,481.4 L671.4000000000001,468.4 L676.7,470.4 L682.0,468.4 Z" fill="#111"/>
<g stroke="#1a1a1a" stroke-width="1.5">
<rect x="52.5" y="483.6" width="230.1" height="9.7" fill="#A8C8F8"/>
<rect x="282.6" y="483.6" width="200.5" height="9.7" fill="#FDE4A6"/>
<rect x="483.1" y="483.6" width="150" height="9.7" fill="#949496"/>
<rect x="633.1" y="483.6" width="43.6" height="9.7" fill="#0C5F6E"/>
<rect x="676.7" y="483.6" width="151.1" height="9.7" fill="#0C5F6E"/>
</g>
<text x="41" y="509.8" font-size="16" text-anchor="start" fill="#231F20" font-weight="normal" textLength="19" lengthAdjust="spacingAndGlyphs" class="nm" stroke="#231F20" stroke-width="0.25">-24</text>
<text x="268.9" y="509.8" font-size="16" text-anchor="start" fill="#231F20" font-weight="normal" textLength="19.2" lengthAdjust="spacingAndGlyphs" class="nm" stroke="#231F20" stroke-width="0.25">-14</text>
<text x="470.9" y="509.8" font-size="16" text-anchor="start" fill="#231F20" font-weight="normal" textLength="11.6" lengthAdjust="spacingAndGlyphs" class="nm" stroke="#231F20" stroke-width="0.25">-7</text>
<text x="623.3" y="509.8" font-size="16" text-anchor="start" fill="#231F20" font-weight="normal" textLength="11.4" lengthAdjust="spacingAndGlyphs" class="nm" stroke="#231F20" stroke-width="0.25">-3</text>
<text x="672.6" y="509.8" font-size="16" text-anchor="start" fill="#231F20" font-weight="normal" textLength="7.3" lengthAdjust="spacingAndGlyphs" class="nm" stroke="#231F20" stroke-width="0.25">0</text>
<text x="821" y="509.8" font-size="16" text-anchor="start" fill="#231F20" font-weight="normal" textLength="7.0" lengthAdjust="spacingAndGlyphs" class="nm" stroke="#231F20" stroke-width="0.25">7</text>
<text x="862.3" y="34.4" font-size="21.8" text-anchor="start" fill="#111" font-weight="bold" textLength="15.2" lengthAdjust="spacingAndGlyphs" class="lt" stroke="#111" stroke-width="0.5">C</text>
<g stroke="#111" stroke-width="2" fill="none">
<path d="M918.4,46.9 L918.4,200.4"/>
<path d="M911.9,190 L1071.8,190"/>
<path d="M912.2,190.00 L918.4,190.00"/>
<path d="M912.2,154.25 L918.4,154.25"/>
<path d="M912.2,118.50 L918.4,118.50"/>
<path d="M912.2,82.75 L918.4,82.75"/>
<path d="M912.2,47.00 L918.4,47.00"/>
</g>
<text x="909.6" y="197.5" font-size="20" text-anchor="end" fill="#111" font-weight="normal" textLength="9.2" lengthAdjust="spacingAndGlyphs" class="tk">0</text>
<text x="909.6" y="161.75" font-size="20" text-anchor="end" fill="#111" font-weight="normal" textLength="18.4" lengthAdjust="spacingAndGlyphs" class="tk">10</text>
<text x="909.6" y="126.0" font-size="20" text-anchor="end" fill="#111" font-weight="normal" textLength="18.4" lengthAdjust="spacingAndGlyphs" class="tk">20</text>
<text x="909.6" y="90.25" font-size="20" text-anchor="end" fill="#111" font-weight="normal" textLength="18.4" lengthAdjust="spacingAndGlyphs" class="tk">30</text>
<text x="909.6" y="54.5" font-size="20" text-anchor="end" fill="#111" font-weight="normal" textLength="18.4" lengthAdjust="spacingAndGlyphs" class="tk">40</text>
<text class="ym" transform="translate(882.3,118.7) rotate(-90)" x="0" y="0" font-size="19.5" text-anchor="middle" fill="#111" stroke="#111" stroke-width="0.2" textLength="99.5" lengthAdjust="spacingAndGlyphs">ΔMAP (mHg)</text>
<g stroke="#6e6e6e" stroke-width="1.3" fill="none">
<path d="M949.1,37 L949.1,32.4 L1040.9,32.4 L1040.9,37"/>
<path d="M949.1,53.5 L949.1,49 L992.7,49 L992.7,53.5"/>
<path d="M997.3,53.5 L997.3,49 L1040.9,49 L1040.9,53.5"/>
</g>
<text x="999.6" y="35.5" font-size="16.5" text-anchor="middle" fill="#111" font-weight="bold" textLength="16.2" lengthAdjust="spacingAndGlyphs" class="st">**</text>
<text x="972.3" y="51.5" font-size="16.5" text-anchor="middle" fill="#111" font-weight="bold" textLength="32.4" lengthAdjust="spacingAndGlyphs" class="st">****</text>
<text x="1020.3" y="51.5" font-size="16.5" text-anchor="middle" fill="#111" font-weight="bold" textLength="8.1" lengthAdjust="spacingAndGlyphs" class="st">*</text>
<rect x="934.8" y="188.2" width="29" height="1.8" fill="#111"/>
<rect x="941.5" y="188.4" width="15.5" height="3" fill="#111"/>
<rect x="980.9" y="98.6" width="28.8" height="91.4" fill="#DDB7D9" stroke="#9A1E8C" stroke-width="1.7"/>
<rect x="1026.9" y="135.4" width="28.6" height="54.6" fill="#FDDDB2" stroke="#F98C12" stroke-width="1.7"/>
<g stroke="#9A1E8C" stroke-width="1.7" fill="none"><path d="M995.3,85.7 L995.3,110.5 M987.3,85.7 L1003.3,85.7 M987.3,110.5 L1003.3,110.5"/></g>
<g stroke="#F98C12" stroke-width="1.7" fill="none"><path d="M1041.2,132.5 L1041.2,138.3 M1034,132.5 L1048.4,132.5 M1034,138.3 L1048.4,138.3"/></g>
<g stroke="#111" stroke-width="1.7" fill="none"><path d="M949.3,185.7 L949.3,190 M941,185.7 L957.6,185.7"/></g>
<g fill="none" stroke="#111" stroke-width="1.7"><circle cx="937.2" cy="183.5" r="3.65"/><circle cx="948.9" cy="183.5" r="3.65"/><circle cx="960.7" cy="189.4" r="3.65"/><circle cx="937.2" cy="196" r="3.65"/></g>
<g fill="none" stroke="#9A1E8C" stroke-width="1.7"><circle cx="994.9" cy="62.9" r="3.65"/><circle cx="987.6" cy="103.4" r="3.65"/><circle cx="1002.7" cy="103.4" r="3.65"/><circle cx="995.2" cy="122" r="3.65"/></g>
<g fill="none" stroke="#F98C12" stroke-width="1.7"><circle cx="1033" cy="131.1" r="3.65"/><circle cx="1048.8" cy="130.7" r="3.65"/><circle cx="1033" cy="138.7" r="3.65"/><circle cx="1048.8" cy="137.1" r="3.65"/></g>
<text class="lbl1" transform="translate(952.4,213) rotate(-45)" x="0" y="0" font-size="17.3" text-anchor="end" fill="#111" stroke="#111" stroke-width="0.3" textLength="52.5" lengthAdjust="spacingAndGlyphs">Control</text>
<text class="lbl2" transform="translate(1017.2,200.5) rotate(-45)" x="0" y="0" font-size="18.65" text-anchor="end" fill="#A0185F" stroke="#A0185F" stroke-width="0.3" textLength="72.3" lengthAdjust="spacingAndGlyphs">HSD+veh</text>
<text class="lbl3" transform="translate(1060.7,202) rotate(-45)" x="0" y="0" font-size="17.65" text-anchor="end" fill="#F98C12" stroke="#F98C12" stroke-width="0.3" textLength="77" lengthAdjust="spacingAndGlyphs">HSD+PLX</text>
<text x="862.5" y="325.2" font-size="21.8" text-anchor="start" fill="#111" font-weight="bold" textLength="14.6" lengthAdjust="spacingAndGlyphs" class="lt" stroke="#111" stroke-width="0.5">D</text>
<g stroke="#111" stroke-width="2" fill="none">
<path d="M916.2,330.2 L916.2,487.2"/>
<path d="M909.5,474.8 L1073.8,474.8"/>
<path d="M910,474.80 L916.2,474.80"/>
<path d="M910,433.30 L916.2,433.30"/>
<path d="M910,391.80 L916.2,391.80"/>
<path d="M910,350.30 L916.2,350.30"/>
</g>
<text x="909.3" y="482.3" font-size="20" text-anchor="end" fill="#111" font-weight="normal" textLength="9.2" lengthAdjust="spacingAndGlyphs" class="tk">0</text>
<text x="909.3" y="440.8" font-size="20" text-anchor="end" fill="#111" font-weight="normal" textLength="18.4" lengthAdjust="spacingAndGlyphs" class="tk">10</text>
<text x="909.3" y="399.3" font-size="20" text-anchor="end" fill="#111" font-weight="normal" textLength="18.4" lengthAdjust="spacingAndGlyphs" class="tk">20</text>
<text x="909.3" y="357.8" font-size="20" text-anchor="end" fill="#111" font-weight="normal" textLength="18.4" lengthAdjust="spacingAndGlyphs" class="tk">30</text>
<text class="ym" transform="translate(882.5,404.2) rotate(-90)" x="0" y="0" font-size="19.5" text-anchor="middle" fill="#111" stroke="#111" stroke-width="0.2" textLength="99.4" lengthAdjust="spacingAndGlyphs">ΔMAP (mHg)</text>
<g stroke="#6e6e6e" stroke-width="1.3" fill="none">
<path d="M949.4,315 L949.4,310.3 L1039.6,310.3 L1039.6,315"/>
<path d="M949.4,334.7 L949.4,329.5 L992.5,329.5 L992.5,334.7"/>
<path d="M997.1,334.7 L997.1,329.5 L1039.6,329.5 L1039.6,334.7"/>
</g>
<text x="993.8" y="307.4" font-size="16.5" text-anchor="middle" fill="#111" font-weight="normal" textLength="15.3" lengthAdjust="spacingAndGlyphs" class="lt">ns</text>
<text x="972.8" y="331.5" font-size="16.5" text-anchor="middle" fill="#111" font-weight="bold" textLength="32.4" lengthAdjust="spacingAndGlyphs" class="st">****</text>
<text x="1019.3" y="331.5" font-size="16.5" text-anchor="middle" fill="#111" font-weight="bold" textLength="24.299999999999997" lengthAdjust="spacingAndGlyphs" class="st">***</text>
<rect x="932.9" y="469.1" width="30" height="5.7" fill="#A3A3A3" stroke="#111" stroke-width="1.6"/>
<rect x="979.6" y="395.5" width="30.3" height="79.3" fill="#DDB7D9" stroke="#9A1E8C" stroke-width="1.7"/>
<rect x="1026.5" y="457.3" width="31.1" height="17.5" fill="#6AB0BB" stroke="#147A8E" stroke-width="1.7"/>
<g stroke="#111" stroke-width="1.6" fill="none"><path d="M947.9,464.5 L947.9,473 M942,464.5 L953.8,464.5"/></g>
<g stroke="#9A1E8C" stroke-width="1.7" fill="none"><path d="M994.8,389.5 L994.8,402 M987,389.5 L1002.6,389.5 M987,402 L1002.6,402"/></g>
<g stroke="#147A8E" stroke-width="1.7" fill="none"><path d="M1041.8,453.8 L1041.8,461 M1033.9,453.8 L1049.7,453.8"/></g>
<g fill="none" stroke="#111" stroke-width="1.7"><circle cx="947.5" cy="453.5" r="3.7"/><circle cx="935.5" cy="462.4" r="3.7"/><circle cx="959.5" cy="461.6" r="3.7"/><circle cx="947.3" cy="464.5" r="3.7"/><circle cx="941.6" cy="467.3" r="3.7"/><circle cx="953.4" cy="467.3" r="3.7"/><circle cx="947.3" cy="473.4" r="3.7"/><circle cx="941.6" cy="481.9" r="3.7"/><circle cx="953.4" cy="480.7" r="3.7"/></g>
<g fill="none" stroke="#9A1E8C" stroke-width="1.7"><circle cx="994.6" cy="355" r="3.7"/><circle cx="991.5" cy="370" r="3.7"/><circle cx="998.7" cy="367.9" r="3.7"/><circle cx="994.6" cy="379.3" r="3.7"/><circle cx="998.7" cy="391.7" r="3.7"/><circle cx="990.7" cy="395.8" r="3.7"/><circle cx="1006.6" cy="403.8" r="3.7"/><circle cx="982.8" cy="410.7" r="3.7"/><circle cx="990.7" cy="412.7" r="3.7"/><circle cx="998.7" cy="411.7" r="3.7"/><circle cx="1006.6" cy="416.6" r="3.7"/><circle cx="994.7" cy="425.6" r="3.7"/></g>
<g fill="none" stroke="#147A8E" stroke-width="1.7"><circle cx="1039.3" cy="436" r="3.7"/><circle cx="1048.7" cy="441.9" r="3.7"/><circle cx="1029.9" cy="447.8" r="3.7"/><circle cx="1033.9" cy="446.8" r="3.7"/><circle cx="1037.3" cy="445.9" r="3.7"/><circle cx="1040.8" cy="447.3" r="3.7"/><circle cx="1044.3" cy="448.3" r="3.7"/><circle cx="1053.7" cy="448.8" r="3.7"/><circle cx="1038.8" cy="453.8" r="3.7"/><circle cx="1053.7" cy="457.8" r="3.7"/><circle cx="1029.4" cy="461.7" r="3.7"/><circle cx="1034.4" cy="465.7" r="3.7"/><circle cx="1043.8" cy="462.7" r="3.7"/><circle cx="1048.2" cy="462.7" r="3.7"/><circle cx="1049.2" cy="470.6" r="3.7"/><circle cx="1043.8" cy="475.1" r="3.7"/><circle cx="1034.9" cy="478.6" r="3.7"/></g>
<text class="lbl4" transform="translate(965.5,493.5) rotate(-45)" x="0" y="0" font-size="16.5" text-anchor="end" fill="#111" stroke="#111" stroke-width="0.3" textLength="70" lengthAdjust="spacingAndGlyphs">Cont+veh</text>
<text class="lbl5" transform="translate(1016.5,486.1) rotate(-45)" x="0" y="0" font-size="18.3" text-anchor="end" fill="#A0185F" stroke="#A0185F" stroke-width="0.3" textLength="71" lengthAdjust="spacingAndGlyphs">HSD+veh</text>
<text class="lbl6" transform="translate(1058.7,491) rotate(-45)" x="0" y="0" font-size="17.2" text-anchor="end" fill="#176E72" stroke="#176E72" stroke-width="0.3" textLength="74.9" lengthAdjust="spacingAndGlyphs">HSD+BLZ</text>
<g fill="#000"><rect x="0" y="0" width="1" height="1"/><rect x="1089" y="0" width="1" height="1"/><rect x="0" y="554" width="1" height="1"/><rect x="1089" y="554" width="1" height="1"/></g>
</svg></body></html>
